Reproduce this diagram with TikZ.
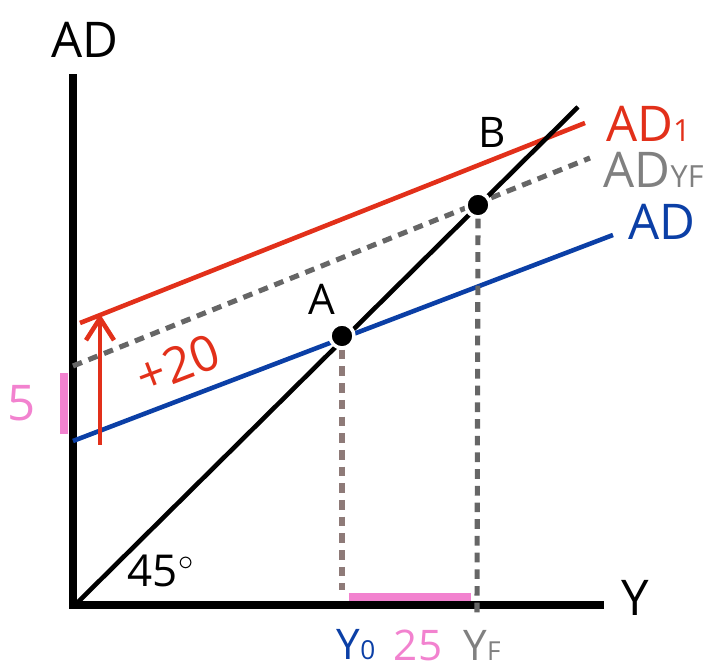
\documentclass[tikz,border=0pt]{standalone}
\usepackage{fontspec}
\setmainfont{Open Sans}
\usetikzlibrary{arrows.meta}
\definecolor{adred}{HTML}{E2301A}
\definecolor{adblue}{HTML}{0B3FA6}
\definecolor{adgray}{HTML}{666666}
\definecolor{lblgray}{HTML}{808080}
\definecolor{adpink}{HTML}{F282CF}
\definecolor{adbrown}{HTML}{8E7A78}
\newcommand{\smallsub}[1]{\scalebox{0.62}{#1}}
\begin{document}
\begin{tikzpicture}[
	axisline/.style={line width=4.5pt, line cap=rect},
	curve/.style={line width=2.6pt},
	guide/.style={line width=2.9pt, dash pattern=on 5.5pt off 4pt},
	bigtext/.style={font=\fontsize{28}{30}\selectfont},
	smalltext/.style={font=\fontsize{24}{26}\selectfont},
	dot/.style={circle, fill=black, draw=white, line width=2pt, minimum size=0.48cm, inner sep=0pt}]
	\useasboundingbox (0,0) rectangle (14.1,13.4);
	% axes
	\coordinate (O) at (1.46,1.30);
	\draw[axisline] (1.46,11.84) -- (O) -- (12.0,1.30);
	\node[bigtext, anchor=center] (ylab) at (1.7,12.6){AD};
	\node[bigtext, anchor=center] (xlab) at (12.7,1.45){Y};
	% lines
	\draw[curve, adblue] (1.46,4.58) -- (12.26,8.70);
	\draw[guide, adgray] (1.46,6.08) -- (11.8,10.24);
	\draw[curve, adred] (1.6,6.94) -- (11.7,10.94);
	\draw[curve, black] (1.5,1.3) -- (11.56,11.26);
	% equilibrium points
	\node[dot] (A) at (6.84,6.68){};
	\node[dot] (B) at (9.56,9.30){};
	\node[smalltext] (Alab) at (6.44,7.42){A};
	\node[smalltext] (Blab) at (9.84,10.76){B};
	\draw[guide, adbrown] (A.south) -- (6.84,1.60);
	\draw[guide, adgray] (B.south) -- (9.54,1.14);
	% gaps
	\draw[line width=4pt, adpink] (6.98,1.46) -- (9.42,1.46);
	\draw[line width=4pt, adpink] (1.28,5.94) -- (1.28,4.72);
	\node[bigtext, text=adpink] (five) at (0.44,5.34){5};
	\draw[curve, adred, -{Straight Barb[length=4.4mm, width=5.6mm, line width=2.6pt]}] (2.0,4.5) -- (2.0,7.12);
	\node[bigtext, text=adred, rotate=21, inner sep=0pt] (shift) at (3.56,6.12){+20};
	% curve labels
	\node[bigtext, text=adred, anchor=west] (ad1) at (12.0,10.92){AD\smallsub{1}};
	\node[bigtext, text=lblgray, anchor=west] (adyf) at (11.95,10.0){AD\smallsub{YF}};
	\node[bigtext, text=adblue, anchor=west] (ad0) at (12.45,8.97){AD};
	\node[font=\fontsize{25}{27}\selectfont] (angle) at (3.22,1.98){45$^\circ$};
	% output labels
	\node[smalltext, text=adblue, inner sep=1pt] (y0) at (7.12,0.5){Y\smallsub{0}};
	\node[smalltext, text=adpink, inner sep=1pt] (gap) at (8.36,0.5){25};
	\node[smalltext, text=lblgray, inner sep=1pt] (yf) at (9.64,0.5){Y\smallsub{F}};
\end{tikzpicture}
\end{document}
